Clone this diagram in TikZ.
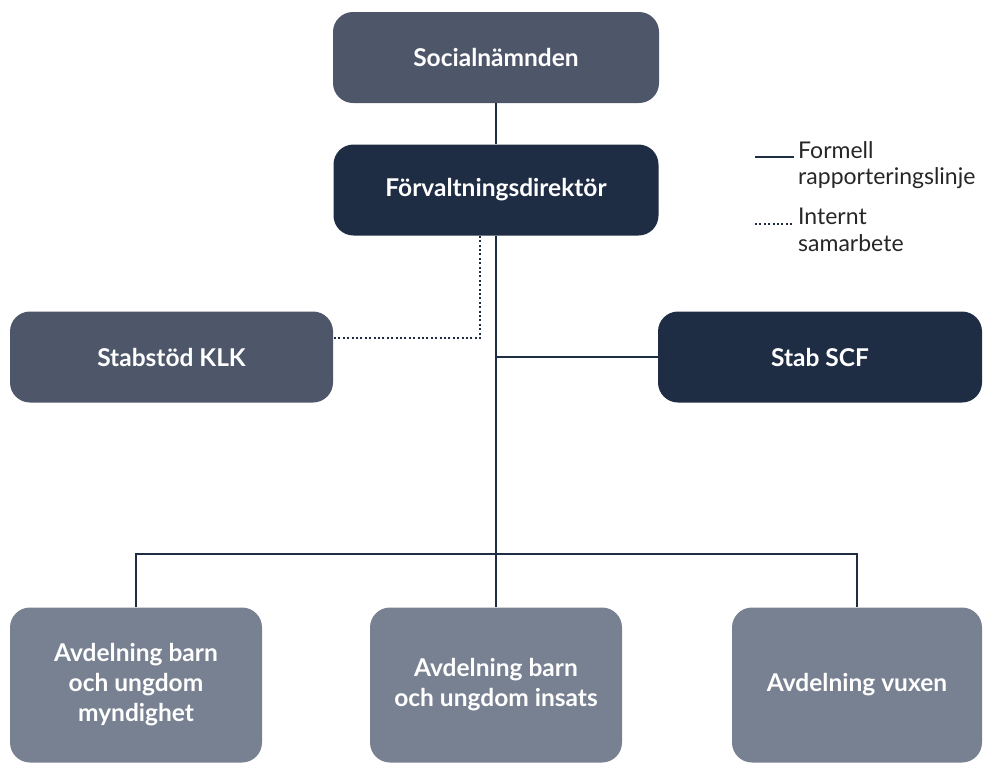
\documentclass[tikz,border=0pt]{standalone}
\usepackage{fontspec}
\setmainfont{Lato}
\usepackage{tikz}
\usetikzlibrary{positioning, calc}
\definecolor{orgnavy}{HTML}{1F2D44}
\definecolor{orgslate}{HTML}{4E566A}
\definecolor{orggrey}{HTML}{788191}

\begin{document}
\begin{tikzpicture}[
    x=1pt, y=-1pt,
    unit/.style={rectangle, rounded corners=20pt, text=white, font=\bfseries\fontsize{24.5}{30}\selectfont, align=center, inner sep=0pt},
    board/.style={unit, fill=orgslate, minimum width=326pt, minimum height=91pt},
    head/.style={unit, fill=orgnavy, minimum width=325pt, minimum height=91pt},
    dept/.style={unit, fill=orggrey, minimum width=252pt, minimum height=155pt},
    line/.style={draw=orgnavy, line width=2pt},
    dotline/.style={draw=orgnavy, line width=2pt, dash pattern=on 2pt off 2.4pt},
    legend/.style={anchor=north west, inner sep=0pt, align=left, text=black!85, font=\fontsize{23}{26.5}\selectfont}
]
    \useasboundingbox (0,0) rectangle (987,763);

    \node[board] (soc) at (496,57.5) {Socialnämnden};
    \node[head] (dir) at (496,190) {Förvaltningsdirektör};
    \node[board, minimum width=323pt] (klk) at (171.5,357) {Stabstöd KLK};
    \node[head, minimum width=324pt] (scf) at (820,357) {Stab SCF};
    \node[dept] (avd1) at (136,685) {Avdelning barn\\och ungdom\\myndighet};
    \node[dept] (avd2) at (496,685) {Avdelning barn\\och ungdom insats};
    \node[dept, minimum width=250pt] (avd3) at (857,685) {Avdelning vuxen};

    % legend
    \node[legend] (formell) at (798,141) {Formell\\rapporteringslinje};
    \node[legend] (internt) at (798,208) {Internt\\samarbete};
    \coordinate (lsolid) at (755,157);
    \coordinate (ldot) at (755,224);
    \draw[line] (lsolid) -- ([xshift=-4pt]lsolid -| formell.west);
    \draw[dotline] (ldot) -- ([xshift=-4pt]ldot -| internt.west);

    % formal lines
    \draw[line] (soc) -- (dir);
    \draw[line] (dir) -- (avd2);
    \draw[line] (scf.west) -- (scf.west -| dir.south);
    \draw[line] (avd1.north) -- ++(0,-53) -| (avd3.north);

    % internal cooperation
    \draw[dotline] ([xshift=-16pt]dir.south) |- ([yshift=19pt]klk.east);
\end{tikzpicture}
\end{document}
